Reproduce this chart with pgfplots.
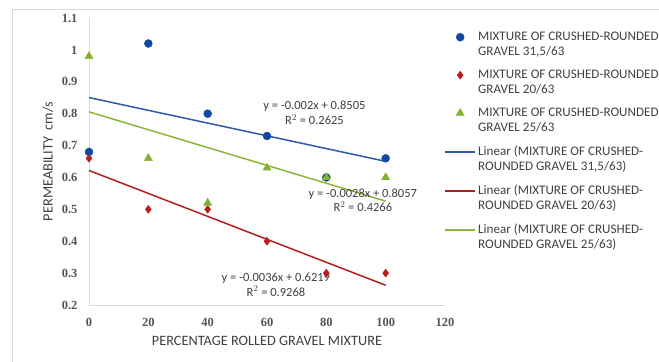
\documentclass[border=0pt]{standalone}
\usepackage{pgfplots}
\pgfplotsset{compat=1.18}
\usepackage{fontspec}
\setmainfont{Carlito}
\newfontfamily\tickfont{Liberation Serif}
\definecolor{bluept}{HTML}{1048A0}
\definecolor{blueln}{HTML}{2C5AA8}
\definecolor{redc}{HTML}{B41E1E}
\definecolor{greenpt}{HTML}{86B030}
\definecolor{greenln}{HTML}{8CB43C}
\definecolor{txt}{HTML}{404040}
\definecolor{axgray}{HTML}{D9D9D9}
\begin{document}
\begin{tikzpicture}
\path[use as bounding box] (0,0) rectangle (659bp,362bp);
\draw[axgray, line width=1bp] (12bp,0) -- (12bp,352bp) -- (659bp,352bp);
\begin{axis}[
  at={(89bp,57bp)}, anchor=south west,
  scale only axis, width=356bp, height=287bp,
  xmin=0, xmax=120, ymin=0.2, ymax=1.1,
  xtick={0,20,...,120}, ytick={0.2,0.3,...,1.1},
  axis lines*=left,
  axis line style={draw=axgray, line width=0.8bp, -},
  major tick length=0pt,
  tick label style={font=\tickfont\bfseries\fontsize{12.5bp}{14bp}\selectfont, text=txt!90},
  /pgf/number format/assume math mode=true,
  yticklabel style={/pgf/number format/fixed, /pgf/number format/precision=1, anchor=east, xshift=-8bp},
  xticklabel style={anchor=center, yshift=-17bp},
  xlabel={PERCENTAGE ROLLED GRAVEL MIXTURE},
  ylabel={PERMEABILITY\ \ cm/s},
  every axis x label/.style={at={(axis description cs:0.5,0)}, anchor=center, yshift=-36bp,
     font=\fontsize{14.3bp}{16bp}\selectfont, text=txt},
  every axis y label/.style={at={(axis description cs:0,0.5)}, anchor=center, rotate=90, yshift=41bp,
     font=\fontsize{14.3bp}{16bp}\selectfont, text=txt},
  clip=false,
  legend image code/.code={\draw[#1, yshift=7.5bp, mark repeat=2, mark phase=2] plot coordinates {(0bp,0bp) (15bp,0bp) (30bp,0bp)};},
  legend style={at={(1,1)}, anchor=north west, xshift=-1bp, yshift=-12bp, draw=none, fill=none,
    inner xsep=0pt, inner ysep=0pt,
    font=\fontsize{13.1bp}{15bp}\selectfont, text=txt, row sep=9bp,
    cells={align=left, anchor=west}},
  legend cell align=left,
]
% trend lines (drawn first)
\addplot[blueln, line width=1.5bp, forget plot] coordinates {(0,0.8505) (100,0.6505)};
\addplot[redc, line width=1.5bp, forget plot] coordinates {(0,0.6219) (100,0.2619)};
\addplot[greenln, line width=1.5bp, forget plot] coordinates {(0,0.8057) (100,0.5257)};
% data points
\addplot[only marks, mark=*, mark size=4bp, mark options={fill=bluept, draw=bluept}] coordinates {
(0,0.68) (20,1.02) (40,0.80) (60,0.73) (80,0.60) (100,0.66)};
\addlegendentry{MIXTURE OF CRUSHED-ROUNDED\\GRAVEL 31,5/63}
\addplot[only marks, mark=diamond*, mark size=4bp, mark options={fill=redc, draw=redc}] coordinates {
(0,0.66) (20,0.50) (40,0.50) (60,0.40) (80,0.30) (100,0.30)};
\addlegendentry{MIXTURE OF CRUSHED-ROUNDED\\GRAVEL 20/63}
\addplot[only marks, mark=triangle*, mark size=4.7bp, mark options={fill=greenpt, draw=greenpt}] coordinates {
(0,0.98) (20,0.66) (40,0.52) (60,0.63) (80,0.60) (100,0.60)};
\addlegendentry{MIXTURE OF CRUSHED-ROUNDED\\GRAVEL 25/63}
\addlegendimage{draw=blueln, line width=2bp}
\addlegendentry{Linear (MIXTURE OF CRUSHED-\\ROUNDED GRAVEL 31,5/63)}
\addlegendimage{draw=redc, line width=2bp}
\addlegendentry{Linear (MIXTURE OF CRUSHED-\\ROUNDED GRAVEL 20/63)}
\addlegendimage{draw=greenln, line width=2bp}
\addlegendentry{Linear (MIXTURE OF CRUSHED-\\ROUNDED GRAVEL 25/63)}
% equations
\node[align=center, text=txt, font=\fontsize{12.5bp}{14.5bp}\selectfont] at (axis cs:76,0.802) {y = -0.002x + 0.8505\\R$^2$ = 0.2625};
\node[align=center, text=txt, font=\fontsize{12.5bp}{14.5bp}\selectfont] at (axis cs:92.3,0.529) {y = -0.0028x + 0.8057\\R$^2$ = 0.4266};
\node[align=center, text=txt, font=\fontsize{12.5bp}{14.5bp}\selectfont] at (axis cs:63,0.263) {y = -0.0036x + 0.6219\\R$^2$ = 0.9268};
\end{axis}
\end{tikzpicture}
\end{document}
